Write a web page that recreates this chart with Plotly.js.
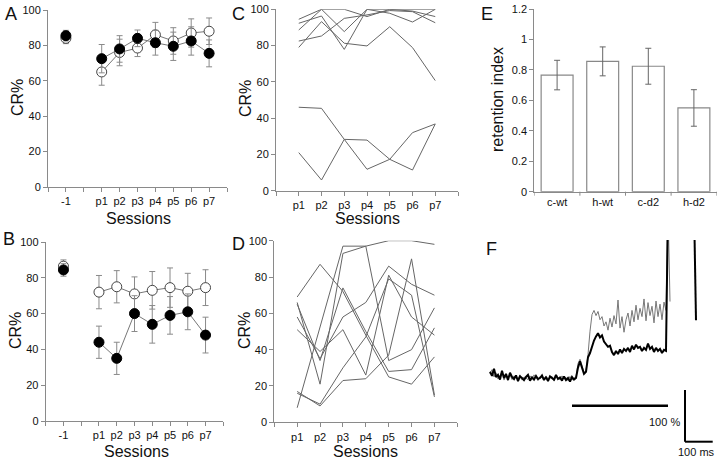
<!DOCTYPE html>
<html><head><meta charset="utf-8">
<script src="https://cdn.plot.ly/plotly-3.0.1.min.js"></script>
<style>body{margin:0;background:#fff}#plot{width:720px;height:462px}</style>
</head><body><div id="plot"></div>
<script>
// ---------- DATA ----------
const sessionsAB = ['-1','p1','p2','p3','p4','p5','p6','p7'];
// Panel A (open = white circles, filled = black circles)
const A_open = [84, 65, 76, 78.5, 86, 82.5, 87, 88];
const A_openErr = [3, 7.5, 7.5, 4.8, 7, 7.5, 8, 7.5];
const A_filled = [85.5, 72.5, 78, 84, 81.5, 79.5, 82.5, 75.5];
const A_filledErr = [3, 8, 7.5, 4.7, 7, 8, 8, 7.6];
// Panel B
const B_open = [86.5, 72, 75, 71, 73, 74.5, 72.5, 74.5];
const B_openErr = [3.5, 9.3, 9, 9.5, 10.5, 11, 10, 10];
const B_filled = [84.4, 44, 35, 60, 54, 59, 61, 48];
const B_filledErr = [3.5, 9, 9, 10, 10.5, 10.5, 10, 10];

const sessionsCD = ['p1','p2','p3','p4','p5','p6','p7'];
// Panel C individual animals
const C1 = [94.5, 100, 100, 96, 100, 99, 96];
const C2 = [92.3, 96.3, 77.9, 100, 100, 100, 100];
const C3 = [88.6, 100, 87.7, 100, 97.8, 93, 100];
const C4 = [82.5, 85.3, 95, 96.9, 99.3, 98.7, 92.6];
const C5 = [79, 93.2, 81.3, 79.8, 90.4, 78.9, 60.7];
const C6 = [46, 45.4, 28.3, 27.9, 17.3, 11.4, 36.8];
const C7 = [21, 5.9, 28.3, 11.8, 17.3, 32, 36.8];
// Panel D individual animals
const D1 = [8, 52, 97, 97, 100, 100, 98];
const D2 = [66, 21, 93, 97, 34, 40, 63];
const D3 = [69, 87, 72, 48, 25, 21, 36];
const D4 = [58, 35, 58, 66, 86, 76, 70];
const D5 = [51, 39, 51, 26, 81, 58, 48];
const D6 = [17, 9, 23, 24, 37, 90, 15];
const D7 = [16, 10, 30, 47, 79, 70, 14];
const D8 = [65, 34, 74, 50, 28, 29, 52];

// Panel E
const groupsE = ['c-wt','h-wt','c-d2','h-d2'];
const retention = [0.766, 0.856, 0.824, 0.55];
const retentionErr = [0.097, 0.095, 0.118, 0.12];

// Panel F traces (% of baseline, one sample every ~7 ms)
const F_gray = [8,16,2,10,-2,6,12,-4,4,2,6,-3,4,0,-2,6,-4,2,0,-3,4,-2,6,0,-5,3,1,-2,4,-4,0,3,-6,2,0,-3,4,-2,1,-5,3,-4,0,2,
 28,36,24,10,14,45,90,122,130,120,128,112,118,100,108,92,115,98,120,104,150,96,118,88,112,125,100,130,108,140,112,134,118,152,110,145,120,138,106,148,118,142,112,146,130,330,147];
const F_black = [12,4,18,2,6,-3,14,0,8,-4,10,2,-2,5,-6,3,0,-4,2,6,-5,1,-3,4,-2,0,5,-4,2,-6,3,0,-3,6,-2,1,-5,3,-4,0,-7,2,-3,0,
 20,32,18,8,12,40,48,62,72,80,86,78,82,70,66,60,62,50,44,52,46,55,48,56,52,58,50,62,55,64,58,60,52,58,54,66,56,60,50,58,52,56,48,54,52,330,
 null,null,null,null,null,null,null,null,null,null,null,null,330,111];

// ---------- LAYOUT HELPERS ----------
const W = 720, H = 462;
const px = x => x / W;
const py = y => 1 - y / H;
const posAB = s => s === '-1' ? 1 : 2 + Number(s.slice(1));
const posCD = s => Number(s.slice(1));

const GRAY = '#8a8a8a';
const FONT = 'Liberation Sans, Arial, Helvetica, sans-serif';

function axisBase(extra) {
  return Object.assign({
    showline: true, linecolor: GRAY, linewidth: 1, ticks: 'outside', ticklen: 4,
    tickcolor: GRAY, tickwidth: 1, showgrid: false, zeroline: false, fixedrange: true,
    tickfont: {size: 11, color: '#111', family: FONT}
  }, extra);
}

const traces = [];
function meanTraces(xa, ya, openVals, openErr, filledVals, filledErr) {
  const xs = sessionsAB.map(posAB);
  [openVals, filledVals].forEach(vals => {
    traces.push({x: xs.slice(1), y: vals.slice(1), xaxis: xa, yaxis: ya, mode: 'lines',
      line: {color: '#777', width: 1}, hoverinfo: 'skip', showlegend: false});
  });
  traces.push({x: xs, y: openVals, xaxis: xa, yaxis: ya, mode: 'markers', showlegend: false,
    error_y: {type: 'data', array: openErr, color: GRAY, thickness: 1, width: 3},
    marker: {size: 10, color: '#fff', line: {color: '#444', width: 1}}});
  traces.push({x: xs, y: filledVals, xaxis: xa, yaxis: ya, mode: 'markers', showlegend: false,
    error_y: {type: 'data', array: filledErr, color: GRAY, thickness: 1, width: 3},
    marker: {size: 10, color: '#000', line: {color: '#000', width: 1}}});
}
meanTraces('x', 'y', A_open, A_openErr, A_filled, A_filledErr);
meanTraces('x2', 'y2', B_open, B_openErr, B_filled, B_filledErr);

[C1, C2, C3, C4, C5, C6, C7].forEach(v => traces.push({x: sessionsCD.map(posCD), y: v,
  xaxis: 'x3', yaxis: 'y3', mode: 'lines', line: {color: '#666', width: 1}, showlegend: false}));
[D1, D2, D3, D4, D5, D6, D7, D8].forEach(v => traces.push({x: sessionsCD.map(posCD), y: v,
  xaxis: 'x4', yaxis: 'y4', mode: 'lines', line: {color: '#666', width: 1}, showlegend: false}));

traces.push({type: 'bar', x: groupsE.map((g, i) => i + 0.5), y: retention, xaxis: 'x5', yaxis: 'y5',
  width: 0.7, marker: {color: '#fff', line: {color: '#888', width: 1.2}}, showlegend: false,
  error_y: {type: 'data', array: retentionErr, color: '#666', thickness: 1, width: 3}});

traces.push({y: F_gray, xaxis: 'x6', yaxis: 'y6', mode: 'lines', line: {color: '#777', width: 1}, showlegend: false});
traces.push({y: F_black, xaxis: 'x6', yaxis: 'y6', mode: 'lines', line: {color: '#000', width: 2}, showlegend: false});

const tickAB = {tickmode: 'array', tickvals: [0,1,2,3,4,5,6,7,8,9,10],
  ticktext: ['', '-1', '', 'p1','p2','p3','p4','p5','p6','p7', '']};
const tickCD = {tickmode: 'array', tickvals: [0,1,2,3,4,5,6,7,8],
  ticktext: ['', 'p1','p2','p3','p4','p5','p6','p7', '']};
const yPct = {range: [0, 100], tickmode: 'array', tickvals: [0,20,40,60,80,100]};

// F axes: 1 sample = 2 px, 52 px = 100 %
const fx0 = 480, fx1 = 720, fStart = 490;
const fy0 = 240, fy1 = 462, fBase = 378, pctPerPx = 100 / 52;
const xF = [(fx0 - fStart) / 2, (fx1 - fStart) / 2];
const yF = [-(fy1 - fBase) * pctPerPx, (fBase - fy0) * pctPerPx];
const fxv = p => (p - fStart) / 2;
const fyv = p => (fBase - p) * pctPerPx;

const layout = {
  width: W, height: H, margin: {l: 0, r: 0, t: 0, b: 0},
  paper_bgcolor: '#fff', plot_bgcolor: 'rgba(0,0,0,0)',
  font: {family: FONT, color: '#111'}, showlegend: false,
  xaxis: axisBase(Object.assign({domain: [px(48), px(227)], range: [0, 10], anchor: 'y'}, tickAB)),
  yaxis: axisBase(Object.assign({domain: [py(187), py(10)], anchor: 'x'}, yPct)),
  xaxis2: axisBase(Object.assign({domain: [px(45.7), px(223.3)], range: [0, 10], anchor: 'y2'}, tickAB)),
  yaxis2: axisBase(Object.assign({domain: [py(421), py(242)], anchor: 'x2'}, yPct)),
  xaxis3: axisBase(Object.assign({domain: [px(276), px(458)], range: [0, 8], anchor: 'y3'}, tickCD)),
  yaxis3: axisBase(Object.assign({domain: [py(190.7), py(9.3)], anchor: 'x3'}, yPct)),
  xaxis4: axisBase(Object.assign({domain: [px(274.3), px(457.3)], range: [0, 8], anchor: 'y4'}, tickCD)),
  yaxis4: axisBase(Object.assign({domain: [py(422.3), py(240.7)], anchor: 'x4'}, yPct)),
  xaxis5: axisBase({domain: [px(534.3), px(716.7)], range: [0, 4], anchor: 'y5', tickmode: 'array',
    tickvals: [0, 0.5, 1, 1.5, 2, 2.5, 3, 3.5, 4], ticktext: ['', 'c-wt', '', 'h-wt', '', 'c-d2', '', 'h-d2', ''],
    ticklen: 0}),
  yaxis5: axisBase({domain: [py(191.7), py(9)], range: [0, 1.2], anchor: 'x5', tickmode: 'array',
    tickvals: [0, 0.2, 0.4, 0.6, 0.8, 1, 1.2], ticktext: ['0', '0.2', '0.4', '0.6', '0.8', '1', '1.2']}),
  xaxis6: {domain: [px(fx0), px(fx1)], range: xF, visible: false, fixedrange: true, anchor: 'y6'},
  yaxis6: {domain: [py(fy1), py(fy0)], range: yF, visible: false, fixedrange: true, anchor: 'x6'},
  shapes: [],
  annotations: []
};

// tick marks for panel E x axis (at bar boundaries)
[0, 1, 2, 3, 4].forEach(v => layout.shapes.push({type: 'line', xref: 'x5', yref: 'paper',
  x0: v, x1: v, y0: py(191.7), y1: py(195.7), line: {color: GRAY, width: 1}}));

// scale bars in F
layout.shapes.push({type: 'line', xref: 'x6', yref: 'y6', x0: fxv(572), x1: fxv(668), y0: fyv(405.7), y1: fyv(405.7), line: {color: '#000', width: 2.5}});
layout.shapes.push({type: 'line', xref: 'x6', yref: 'y6', x0: fxv(685), x1: fxv(685), y0: fyv(390), y1: fyv(441.7), line: {color: '#000', width: 2}});
layout.shapes.push({type: 'line', xref: 'x6', yref: 'y6', x0: fxv(685), x1: fxv(712.7), y0: fyv(441.7), y1: fyv(441.7), line: {color: '#000', width: 2}});

function ann(text, x, y, size, extra) {
  layout.annotations.push(Object.assign({text, x: px(x), y: py(y), xref: 'paper', yref: 'paper',
    showarrow: false, xanchor: 'center', yanchor: 'middle', font: {size, family: FONT, color: '#111'}}, extra || {}));
}
ann('A', 11, 14, 18); ann('B', 9, 239, 18); ann('C', 238, 14, 18);
ann('D', 238, 244, 18); ann('E', 487, 14, 18); ann('F', 491, 249, 18);
ann('CR%', 17, 98, 16, {textangle: -90}); ann('CR%', 15, 331, 16, {textangle: -90});
ann('CR%', 245, 99, 16, {textangle: -90}); ann('CR%', 244, 331, 16, {textangle: -90});
ann('Sessions', 138, 218, 16); ann('Sessions', 136, 451, 16);
ann('Sessions', 367, 218, 16); ann('Sessions', 365, 451, 16);
ann('retention index', 497, 100, 16, {textangle: -90});
ann('100 %', 664, 422, 11); ann('100 ms', 696, 452, 11);

Plotly.newPlot('plot', traces, layout, {staticPlot: true, displayModeBar: false});
</script></body></html>
